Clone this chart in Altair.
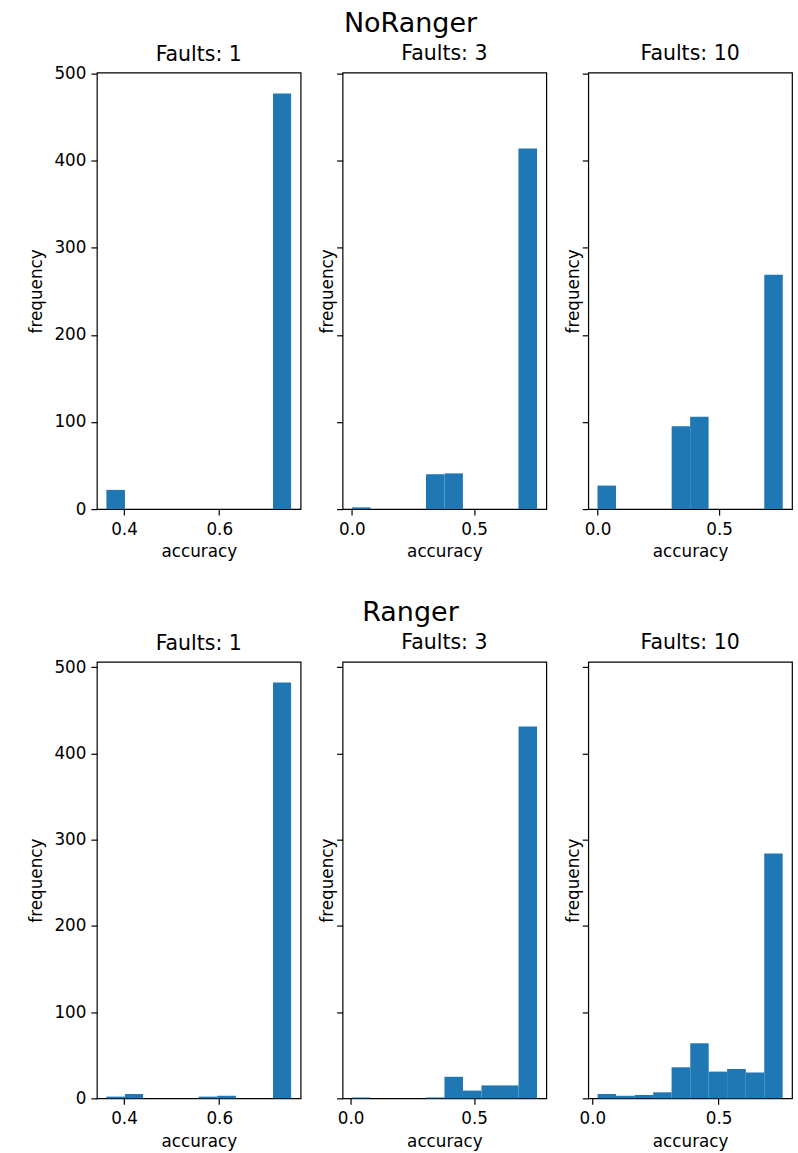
import altair as alt
import pandas as pd

ROW_TITLES = ["NoRanger", "Ranger"]
PANEL_TITLES = ["Faults: 1", "Faults: 3", "Faults: 10"]

# ---- bin edges (matplotlib default 10 bins per panel) ----
edges_nr_1 = [0.363, 0.402, 0.440, 0.479, 0.518, 0.557, 0.596, 0.635, 0.674, 0.713, 0.751]
edges_nr_3 = [0.000, 0.076, 0.151, 0.227, 0.303, 0.379, 0.454, 0.530, 0.606, 0.681, 0.757]
edges_nr_10 = [0.000, 0.076, 0.152, 0.229, 0.305, 0.381, 0.457, 0.533, 0.610, 0.686, 0.762]
edges_r_1 = [0.363, 0.402, 0.440, 0.479, 0.518, 0.557, 0.596, 0.635, 0.674, 0.713, 0.751]
edges_r_3 = [0.005, 0.080, 0.155, 0.230, 0.305, 0.380, 0.455, 0.530, 0.605, 0.680, 0.755]
edges_r_10 = [0.021, 0.094, 0.168, 0.241, 0.314, 0.388, 0.461, 0.534, 0.608, 0.681, 0.754]

# ---- frequencies ----
counts_nr_1 = [22, 0, 0, 0, 0, 0, 0, 0, 0, 477]
counts_nr_3 = [2, 0, 0, 0, 40, 41, 0, 0, 0, 414]
counts_nr_10 = [27, 0, 0, 0, 95, 106, 0, 0, 0, 269]
counts_r_1 = [2, 5, 0, 0, 0, 2, 3, 0, 0, 482]
counts_r_3 = [1, 0, 0, 0, 1, 25, 9, 15, 15, 431]
counts_r_10 = [5, 3, 4, 7, 36, 64, 31, 34, 30, 284]

# ---- axis ranges / ticks ----
xlim_nr = [[0.343, 0.771], [-0.038, 0.795], [-0.038, 0.800]]
xlim_r = [[0.343, 0.771], [-0.0325, 0.7925], [-0.016, 0.791]]
xticks_f1 = [0.4, 0.6]
xticks_other = [0.0, 0.5]
yticks = [0, 100, 200, 300, 400, 500]
ymax_nr = 501
ymax_r = 506

BLUE = "#1f77b4"
FONT = "DejaVu Sans"
PW, PH = 204, 437


def panel(edges, counts, xlim, xticks, ymax, title, first, title_offset):
    df = pd.DataFrame({"lo": edges[:-1], "hi": edges[1:], "n": counts})
    df = df[df["n"] > 0].copy()
    df["zero"] = 0
    yaxis = alt.Axis(
        values=yticks, title="frequency", labels=first, format="d",
        titlePadding=8 if first else -1,
    )
    xaxis = alt.Axis(values=xticks, format=".1f", title="accuracy")
    return (
        alt.Chart(df)
        .mark_rect(color=BLUE)
        .encode(
            x=alt.X("lo:Q", scale=alt.Scale(domain=xlim, nice=False, zero=False), axis=xaxis),
            x2="hi:Q",
            y=alt.Y("n:Q", scale=alt.Scale(domain=[0, ymax], nice=False, zero=True), axis=yaxis),
            y2="zero:Q",
        )
        .properties(
            width=PW, height=PH,
            title=alt.TitleParams(title, fontSize=20.5, font=FONT, fontWeight="normal",
                                  color="black", offset=title_offset),
        )
    )


def row(name, edge_list, count_list, xlims, ymax, first_offset):
    panels = []
    for i in range(3):
        panels.append(
            panel(edge_list[i], count_list[i], xlims[i],
                  xticks_f1 if i == 0 else xticks_other, ymax, PANEL_TITLES[i], i == 0,
                  first_offset if i == 0 else 8)
        )
    return alt.hconcat(*panels, spacing=17).properties(
        title=alt.TitleParams(name, fontSize=27, font=FONT, fontWeight="normal",
                              color="black", anchor="middle", frame="bounds", offset=6)
    )


row1 = row(ROW_TITLES[0], [edges_nr_1, edges_nr_3, edges_nr_10],
           [counts_nr_1, counts_nr_3, counts_nr_10], xlim_nr, ymax_nr, 0)
row2 = row(ROW_TITLES[1], [edges_r_1, edges_r_3, edges_r_10],
           [counts_r_1, counts_r_3, counts_r_10], xlim_r, ymax_r, 5)

chart = (
    alt.vconcat(row1, row2, spacing=36)
    .properties(padding={"left": 28, "top": 8, "right": 5, "bottom": 2}, background="white")
    .configure_view(stroke="black", strokeWidth=1.2)
    .configure_axis(
        domain=False,
        grid=False,
        tickColor="black",
        tickSize=6,
        tickWidth=1.2,
        labelFont=FONT,
        labelFontSize=16.8,
        labelColor="black",
        labelPadding=5,
        titleFont=FONT,
        titleFontSize=16.8,
        titleFontWeight="normal",
        titleColor="black",
    )
    .configure_axisX(titlePadding=6, labelPadding=6)
    .configure_concat(spacing=17)
)

chart.save("out.html", embed_options={"renderer": "svg", "actions": False})
